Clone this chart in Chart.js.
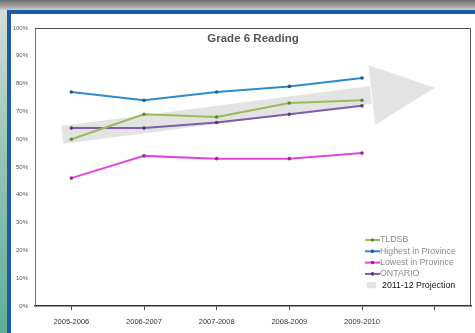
<!DOCTYPE html>
<html>
<head>
<meta charset="utf-8">
<script src="https://cdn.jsdelivr.net/npm/chart.js@4.4.1/dist/chart.umd.min.js"></script>
<style>
  html, body { margin: 0; padding: 0; background: #fff; }
  body { width: 475px; height: 333px; overflow: hidden; position: relative; }
  #topbar { position: absolute; left: 0; top: 0; width: 475px; height: 10px;
    background: linear-gradient(#6e6e6e, #a9a9a9 70%, #cfcfcf); }
  #strip { position: absolute; left: 0; top: 10px; width: 7px; height: 323px;
    background: linear-gradient(#d6dbd9, #9cc6b8 40%, #5fae96); }
  #frame { position: absolute; left: 7px; top: 10px; width: 464px; height: 319px;
    border-top: 4px solid #1c5ca6; border-left: 4px solid #1c5ca6; }
  #chart { position: absolute; left: 11px; top: 14px; }
</style>
</head>
<body>
<div id="topbar"></div>
<div id="strip"></div>
<div id="frame"></div>
<canvas id="chart" width="464" height="319"></canvas>
<script>
// --- data ---
const categories = ["2005-2006", "2006-2007", "2007-2008", "2008-2009", "2009-2010", ""];
const tldsb = [60, 69, 68, 73, 74];
const highest = [77, 74, 77, 79, 82];
const lowest = [46, 54, 53, 53, 55];
const ontario = [64, 64, 66, 69, 72];
// projection arrow: shaft values, tip sits on the empty 6th category
const projection = [62, null, null, null, 75.5];
const projectionTip = 78.5;

const FONT = "'Liberation Sans', Arial, sans-serif";

function series(label, data, color, pointColor) {
  return {
    label: label,
    data: data,
    borderColor: color,
    backgroundColor: pointColor,
    borderWidth: 2,
    pointRadius: 1.8,
    pointBackgroundColor: pointColor,
    pointBorderWidth: 0,
    tension: 0,
  };
}

const datasets = [
  series("TLDSB", tldsb, "#9bbb59", "#6b8536"),
  series("Highest in Province", highest, "#2b8bd0", "#1d5a88"),
  series("Lowest in Province", lowest, "#e545df", "#9c2a98"),
  series("ONTARIO", ontario, "#7f5ea8", "#563d7a"),
  {
    label: "2011-12 Projection",
    data: projection,
    borderColor: "rgba(222,222,222,0.85)",
    backgroundColor: "rgba(222,222,222,0.85)",
    borderWidth: 18,
    borderCapStyle: "square",
    pointRadius: 0,
    spanGaps: true,
  },
];

// arrow head at the end of the projection shaft
const arrowHead = {
  id: "arrowHead",
  beforeDatasetsDraw(chart) {
    const meta = chart.getDatasetMeta(4);
    const p0 = meta.data[4];
    const xs = chart.scales.x, ys = chart.scales.y;
    const tipX = xs.getPixelForValue(5);
    const tipY = ys.getPixelForValue(projectionTip);
    const dx = tipX - p0.x, dy = tipY - p0.y;
    const len = Math.sqrt(dx * dx + dy * dy);
    const ux = dx / len, uy = dy / len;
    const bx = p0.x + ux * 10, by = p0.y + uy * 10;
    const h = 30;
    const ctx = chart.ctx;
    ctx.save();
    ctx.fillStyle = "rgba(222,222,222,0.85)";
    ctx.beginPath();
    ctx.moveTo(tipX, tipY);
    ctx.lineTo(bx - uy * h, by + ux * h);
    ctx.lineTo(bx + uy * h, by - ux * h);
    ctx.closePath();
    ctx.fill();
    ctx.restore();
  },
};

// plot frame, title and legend drawn inside the plot area
const overlay = {
  id: "overlay",
  afterDraw(chart) {
    const ctx = chart.ctx;
    const a = chart.chartArea;
    ctx.save();
    ctx.strokeStyle = "#555";
    ctx.lineWidth = 1;
    ctx.beginPath();
    ctx.moveTo(a.left, a.top + 0.5);
    ctx.lineTo(a.right - 0.5, a.top + 0.5);
    ctx.lineTo(a.right - 0.5, a.bottom);
    ctx.stroke();

    ctx.fillStyle = "#555";
    ctx.font = "bold 11.5px " + FONT;
    ctx.textAlign = "center";
    ctx.textBaseline = "middle";
    ctx.fillText("Grade 6 Reading", (a.left + a.right) / 2, 25);

    // legend
    ctx.textAlign = "left";
    ctx.font = "8.8px " + FONT;
    const x0 = 354, top = 226, step = 11.3;
    datasets.forEach((ds, i) => {
      const y = top + i * step;
      if (i === 4) {
        ctx.strokeStyle = "rgba(222,222,222,0.9)";
        ctx.lineWidth = 6;
        ctx.beginPath();
        ctx.moveTo(x0 + 2, y);
        ctx.lineTo(x0 + 11, y);
        ctx.stroke();
        ctx.fillStyle = "#111";
      } else {
        ctx.strokeStyle = ds.borderColor;
        ctx.lineWidth = 2;
        ctx.beginPath();
        ctx.moveTo(x0, y);
        ctx.lineTo(x0 + 15, y);
        ctx.stroke();
        ctx.fillStyle = ds.pointBackgroundColor;
        ctx.beginPath();
        ctx.arc(x0 + 7.5, y, 1.8, 0, Math.PI * 2);
        ctx.fill();
        ctx.fillStyle = "#8a8a8a";
      }
      ctx.fillText(ds.label, i === 4 ? x0 + 17 : x0 + 15, y);
    });
    ctx.restore();
  },
};

new Chart(document.getElementById("chart"), {
  type: "line",
  data: { labels: categories, datasets: datasets },
  options: {
    responsive: false,
    animation: false,
    layout: { padding: { top: 14, right: 3, left: 0, bottom: 0 } },
    plugins: {
      legend: { display: false },
      title: { display: false },
      tooltip: { enabled: false },
    },
    scales: {
      x: {
        offset: true,
        grid: {
          display: true,
          drawOnChartArea: false,
          offset: false,
          tickLength: 4,
          color: "#444",
        },
        border: { display: true, color: "#333", width: 1.5 },
        ticks: {
          padding: 7,
          maxRotation: 0,
          autoSkip: false,
          color: "#333",
          font: { family: FONT, size: 7.5 },
        },
        afterFit(scale) { scale.height = 27; },
      },
      y: {
        min: 0,
        max: 100,
        grid: { display: false, drawTicks: false },
        border: { display: true, color: "#777", width: 1 },
        ticks: {
          stepSize: 10,
          padding: 7,
          color: "#555",
          font: { family: FONT, size: 6 },
          callback: (v) => v + "%",
        },
        afterFit(scale) { scale.width = 24; },
      },
    },
  },
  plugins: [arrowHead, overlay],
});
</script>
</body>
</html>
